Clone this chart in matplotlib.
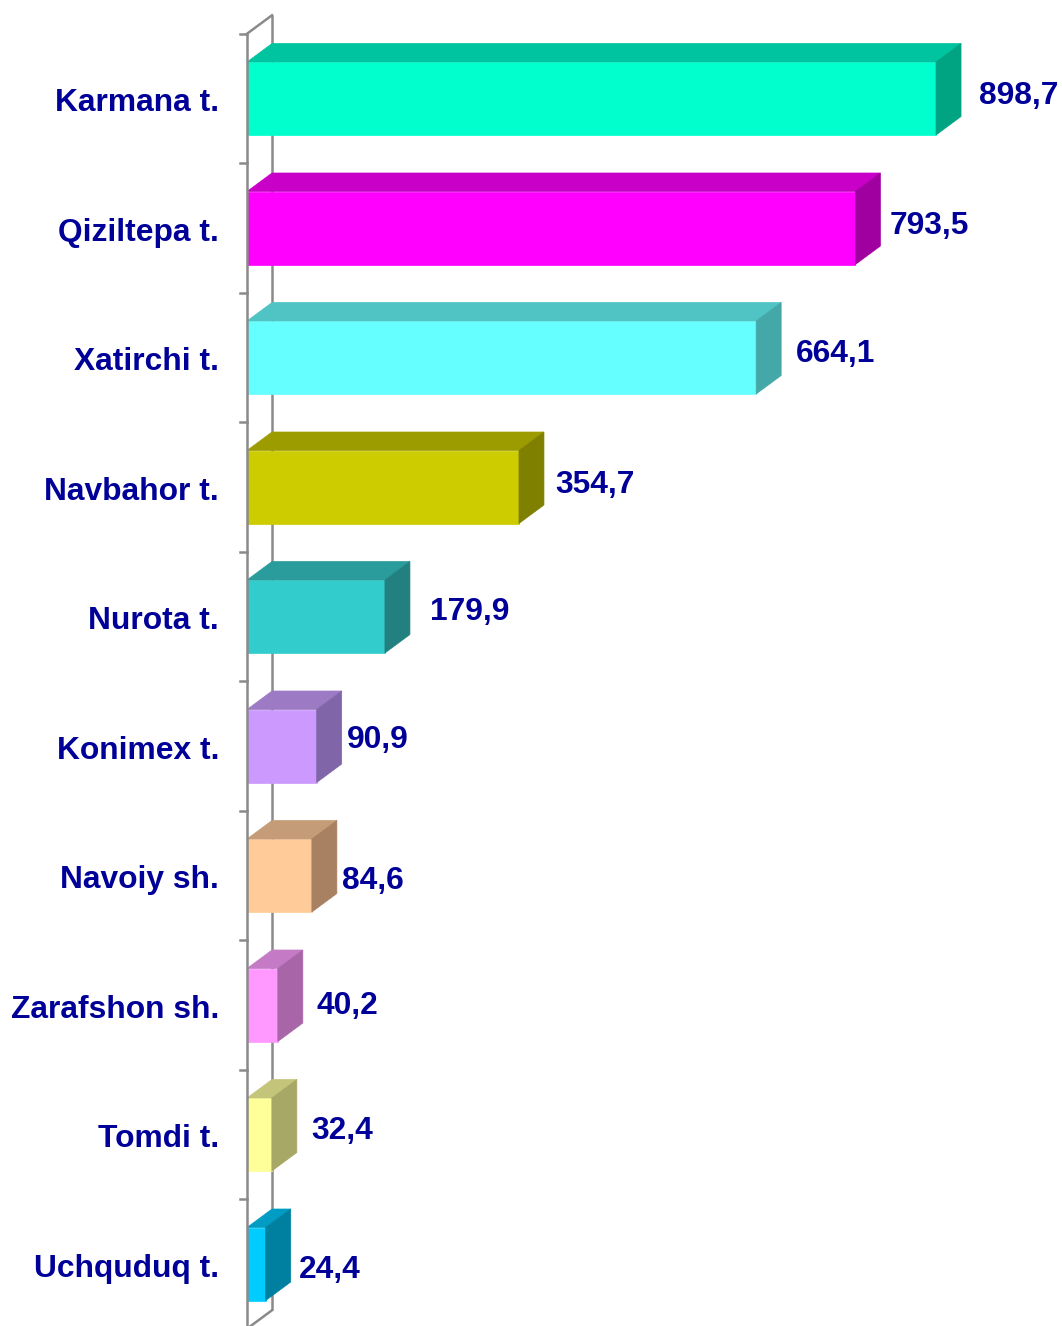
import matplotlib.pyplot as plt
from matplotlib.patches import Polygon

regions = ["Karmana t.", "Qiziltepa t.", "Xatirchi t.", "Navbahor t.", "Nurota t.",
           "Konimex t.", "Navoiy sh.", "Zarafshon sh.", "Tomdi t.", "Uchquduq t."]
values = [898.7, 793.5, 664.1, 354.7, 179.9, 90.9, 84.6, 40.2, 32.4, 24.4]

front_colors = ["#00FFCC", "#FF00FF", "#66FFFF", "#CCCC00", "#33CCCC",
                "#CC99FF", "#FFCC99", "#FF99FF", "#FFFF99", "#00CCFF"]
top_colors = ["#00C4A0", "#C800C8", "#50C4C4", "#9C9C00", "#2A9C9C",
              "#9C7AC4", "#C49C78", "#C47AC4", "#C4C47A", "#009CC4"]
side_colors = ["#00A482", "#A000A0", "#44A8A8", "#808000", "#238080",
               "#8066A8", "#A88062", "#A866A8", "#A8A866", "#0080A0"]

# hand-placed label nudges (pixels: gap right of bar, shift down from bar centre)
label_gap = [18, 9, 15, 11, 20, 5, 5, 14, 14, 8]
label_shift = [-5.5, -5, -6.5, -5, -7.5, -9, 2, -2, -6.5, 3]

W, H = 1062, 1326
fig = plt.figure(figsize=(W / 100, H / 100), dpi=100)
ax = fig.add_axes([0, 0, 1, 1])

px = 0.7667      # pixels per value unit
x0 = 247         # pixel column of zero
step = 129.5     # pixels per category
y_first = 98.5   # pixel row of the first category
ax.set_xlim(-x0 / px, (W - x0) / px)
ax.set_ylim((H - y_first) / step, -y_first / step)
ax.axis("off")

dx = 25 / px
dy = -18.5 / step
half = 36.5 / step

navy = "#000099"
grey = "#8A8A8A"
lw = 1.8
font = dict(family=["Liberation Sans", "DejaVu Sans"], fontweight="bold",
            fontsize=22.9, color=navy)

# axis wall
n = len(values)
lo, hi = -0.5, n - 0.5
ax.plot([dx, dx], [lo + dy, hi + dy], color=grey, lw=lw, zorder=1,
        solid_capstyle="butt")
ax.plot([0, dx], [lo, lo + dy], color=grey, lw=lw, zorder=1)
ax.plot([0, dx], [hi, hi + dy], color=grey, lw=lw, zorder=1)
for k in range(n + 1):
    ax.plot([-7 / px, 0], [k - 0.5, k - 0.5], color=grey, lw=lw, zorder=1)

# 3d bars
for i, v in enumerate(values):
    t, b = i - half, i + half
    ax.add_patch(Polygon([(0, t), (v, t), (v, b), (0, b)],
                         closed=True, fc=front_colors[i], ec=front_colors[i],
                         lw=0.5, zorder=2))
    ax.add_patch(Polygon([(0, t), (v, t), (v + dx, t + dy), (dx, t + dy)],
                         closed=True, fc=top_colors[i], ec=top_colors[i],
                         lw=0.5, zorder=2))
    ax.add_patch(Polygon([(v, t), (v + dx, t + dy), (v + dx, b + dy), (v, b)],
                         closed=True, fc=side_colors[i], ec=side_colors[i],
                         lw=0.5, zorder=2))

    label = f"{v:.1f}".replace(".", ",")
    ax.annotate(label, xy=(v + dx, i),
                xytext=(label_gap[i], -(label_shift[i] + 11)),
                textcoords="offset pixels", ha="left", va="baseline", **font)
    ax.annotate(regions[i], xy=(0, i), xytext=(219 - x0, -(1.5 + 11.2)),
                textcoords="offset pixels", ha="right", va="baseline", **font)

ax.plot([0, 0], [lo, hi], color=grey, lw=lw, zorder=3, solid_capstyle="butt")

fig.savefig("out.png", dpi=100)
